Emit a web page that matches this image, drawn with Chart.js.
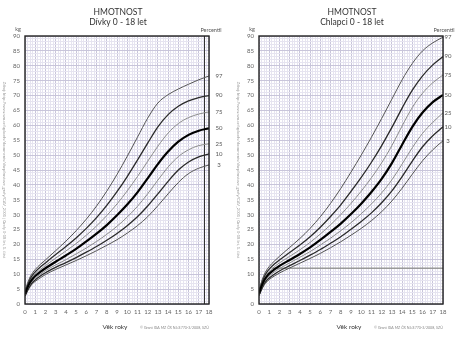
<!DOCTYPE html>
<html>
<head>
<meta charset="utf-8">
<script src="https://cdn.jsdelivr.net/npm/chart.js@4.4.0/dist/chart.umd.min.js"></script>
<style>
  html, body { margin: 0; padding: 0; background: #fff; }
  #wrap { position: relative; width: 465px; height: 340px; overflow: hidden; }
  .box { position: absolute; top: 0; height: 340px; }
</style>
</head>
<body>
<div id="wrap">
  <div class="box" style="left:0;width:232px"><canvas id="girls" width="232" height="340"></canvas></div>
  <div class="box" style="left:234px;width:231px"><canvas id="boys" width="231" height="340"></canvas></div>
</div>
<script>
// věk (roky)
const ages = [0, 0.25, 0.5, 0.75, 1, 1.5, 2, 3, 4, 5, 6, 7, 8, 9, 10, 11, 12, 13, 14, 15, 16, 17, 18];
const percentiles = ['97', '90', '75', '50', '25', '10', '3'];

// Dívky - hmotnost (kg)
const girlsP97 = [4.2, 7.0, 9.1, 10.5, 11.6, 13.3, 14.8, 17.9, 21.1, 24.6, 28.5, 32.9, 37.9, 43.5, 49.6, 56.0, 62.4, 67.5, 70.3, 72.2, 73.8, 75.3, 76.6];
const girlsP90 = [3.9, 6.5, 8.5, 9.8, 10.8, 12.4, 13.8, 16.6, 19.3, 22.2, 25.4, 29.0, 33.1, 37.7, 42.8, 48.3, 54.0, 59.5, 63.6, 66.4, 68.2, 69.3, 70.0];
const girlsP75 = [3.6, 6.1, 7.9, 9.2, 10.1, 11.6, 12.9, 15.4, 17.8, 20.3, 23.1, 26.2, 29.7, 33.6, 38.0, 42.8, 47.9, 53.0, 57.4, 60.6, 62.6, 63.8, 64.5];
const girlsP50 = [3.3, 5.6, 7.3, 8.5, 9.4, 10.8, 12.0, 14.2, 16.3, 18.5, 21.0, 23.6, 26.5, 29.8, 33.4, 37.5, 42.2, 47.0, 51.2, 54.5, 56.8, 58.2, 59.0];
const girlsP25 = [3.0, 5.1, 6.7, 7.9, 8.7, 10.0, 11.2, 13.1, 14.9, 16.8, 18.8, 21.0, 23.4, 26.1, 29.2, 32.8, 37.0, 41.6, 46.0, 49.5, 51.8, 53.2, 53.8];
const girlsP10 = [2.8, 4.7, 6.2, 7.3, 8.1, 9.4, 10.5, 12.3, 13.9, 15.6, 17.4, 19.3, 21.4, 23.7, 26.3, 29.3, 32.9, 37.0, 41.2, 45.0, 47.7, 49.4, 50.4];
const girlsP3  = [2.6, 4.3, 5.8, 6.9, 7.6, 8.8, 9.9, 11.6, 13.1, 14.6, 16.2, 17.9, 19.7, 21.6, 23.8, 26.3, 29.3, 33.0, 37.0, 40.8, 43.8, 45.6, 46.7];

// Chlapci - hmotnost (kg)
const boysP97 = [4.4, 7.5, 9.8, 11.4, 12.6, 14.4, 16.0, 19.0, 22.0, 25.4, 29.3, 33.8, 38.8, 44.3, 50.0, 56.0, 62.3, 68.8, 75.3, 80.8, 85.0, 87.7, 89.6];
const boysP90 = [4.1, 7.0, 9.1, 10.6, 11.7, 13.4, 14.8, 17.3, 19.8, 22.6, 25.8, 29.4, 33.3, 37.8, 42.5, 47.6, 53.2, 59.3, 65.8, 71.8, 76.6, 80.3, 83.1];
const boysP75 = [3.8, 6.5, 8.5, 9.9, 10.9, 12.5, 13.8, 16.0, 18.2, 20.7, 23.5, 26.6, 30.0, 33.8, 37.9, 42.4, 47.4, 53.2, 59.8, 66.0, 70.8, 74.3, 76.9];
const boysP50 = [3.5, 6.0, 7.9, 9.2, 10.2, 11.6, 12.8, 14.8, 16.8, 19.0, 21.5, 24.2, 27.0, 30.2, 33.7, 37.6, 42.0, 47.3, 53.5, 59.5, 64.3, 67.8, 70.2];
const boysP25 = [3.2, 5.5, 7.3, 8.5, 9.4, 10.8, 11.9, 13.8, 15.7, 17.6, 19.8, 22.1, 24.6, 27.3, 30.3, 33.6, 37.3, 41.7, 47.0, 52.5, 57.3, 61.0, 64.2];
const boysP10 = [2.9, 5.1, 6.8, 7.9, 8.7, 10.0, 11.1, 12.9, 14.6, 16.4, 18.3, 20.4, 22.6, 25.1, 27.7, 30.6, 34.0, 38.0, 42.8, 48.0, 52.8, 56.5, 59.5];
const boysP3  = [2.7, 4.7, 6.3, 7.4, 8.2, 9.4, 10.4, 12.1, 13.7, 15.3, 17.0, 18.9, 20.9, 23.1, 25.4, 28.0, 31.0, 34.6, 38.9, 43.6, 48.1, 51.8, 54.8];

// vodorovná čára v grafu chlapců
const boysLineAges = [1.3, 18];
const boysLineKg = [12, 12];

const FONT = 'Lato, "Open Sans", sans-serif';
const GRID_MINOR = '#e6e4f0';
const GRID_MAJOR = '#c8c5da';

const lineStyles = {
    '97': { color: '#555', width: 1 },
    '90': { color: '#2a2a2a', width: 1.3 },
    '75': { color: '#8c8c8c', width: 1 },
    '50': { color: '#000', width: 2.2 },
    '25': { color: '#8c8c8c', width: 1 },
    '10': { color: '#2a2a2a', width: 1.3 },
    '3':  { color: '#555', width: 1 }
};

function isInt(v) { return Math.abs(v - Math.round(v)) < 1e-6; }

function toPoints(xs, ys) {
    return xs.map((x, i) => ({ x: x, y: ys[i] }));
}

// Tmavá svislá čára (jen dívky) - kreslí se nad mřížkou, pod křivkami
const markLinePlugin = {
    id: 'markLine',
    beforeDatasetsDraw(chart, args, o) {
        if (o.value === undefined) return;
        const a = chart.chartArea;
        const x = Math.round(chart.scales.x.getPixelForValue(o.value)) + 0.5;
        const ctx = chart.ctx;
        ctx.save();
        ctx.strokeStyle = '#333';
        ctx.lineWidth = 1;
        ctx.beginPath();
        ctx.moveTo(x, a.top);
        ctx.lineTo(x, a.bottom);
        ctx.stroke();
        ctx.restore();
    }
};

// Popisky, rámeček, texty okolo grafu
const decorPlugin = {
    id: 'decor',
    afterDraw(chart, args, o) {
        const ctx = chart.ctx;
        const a = chart.chartArea;
        ctx.save();

        // rámeček
        ctx.strokeStyle = '#222';
        ctx.lineWidth = 1.4;
        ctx.strokeRect(a.left, a.top, a.right - a.left, a.bottom - a.top);

        ctx.fillStyle = '#333';
        ctx.textAlign = 'center';
        ctx.textBaseline = 'middle';
        const cx = (a.left + a.right) / 2 + 1;
        ctx.font = '8.5px ' + FONT;
        ctx.fillText('HMOTNOST', cx, 12);
        ctx.fillText(o.subtitle, cx, 22);

        ctx.fillStyle = '#555';
        ctx.font = '5.5px ' + FONT;
        ctx.fillText('kg', 18, 29);
        ctx.fillText('Percentil', o.pctX, 30);

        // percentily u konců křivek
        ctx.font = '6px ' + FONT;
        chart.data.datasets.forEach((ds, i) => {
            if (!ds.pct) return;
            const pts = chart.getDatasetMeta(i).data;
            const last = pts[pts.length - 1];
            ctx.fillText(ds.label, a.right + o.labelOffset, last.y);
        });

        ctx.fillStyle = '#333';
        ctx.font = '6.5px ' + FONT;
        ctx.fillText('Věk roky', a.left + 90, 327);
        ctx.fillStyle = '#888';
        ctx.font = '3.6px ' + FONT;
        ctx.textAlign = 'left';
        ctx.fillText('© Grant IGA MZ ČR NJ/4770-3/2008, SZÚ', a.left + 115, 328);

        // zdroj - svisle
        ctx.translate(4, 170);
        ctx.rotate(Math.PI / 2);
        ctx.textAlign = 'center';
        ctx.fillStyle = '#999';
        ctx.font = '4px ' + FONT;
        ctx.fillText('Zdroj: http://www.szu.cz/uploads/documents/chzp/rustove_grafy/CAV_2001 | Grafy 0-18 let, 1. část', 0, 0);
        ctx.restore();
    }
};

function makeChart(id, series, extra, opts) {
    const datasets = percentiles.map((p, i) => ({
        label: p,
        pct: true,
        data: toPoints(ages, series[i]),
        borderColor: lineStyles[p].color,
        borderWidth: lineStyles[p].width,
        pointRadius: 0,
        cubicInterpolationMode: 'monotone',
        fill: false,
        order: p === '50' ? 0 : 1
    }));
    if (extra) datasets.push(extra);

    const xGrid = [];
    for (let i = 0; i <= 72; i++) xGrid.push({ value: i / 4 });
    const yGrid = [];
    for (let i = 0; i <= 90; i++) yGrid.push({ value: i });

    return new Chart(document.getElementById(id), {
        type: 'line',
        data: { datasets: datasets },
        options: {
            responsive: false,
            animation: false,
            layout: { padding: { top: 36, right: opts.padRight, left: 0, bottom: 0 } },
            plugins: {
                legend: { display: false },
                tooltip: { enabled: false },
                decor: opts,
                markLine: { value: opts.darkLine }
            },
            scales: {
                x: {
                    type: 'linear', min: 0, max: 18,
                    afterBuildTicks: axis => { axis.ticks = xGrid; },
                    afterFit: s => { s.height = 36; },
                    ticks: {
                        autoSkip: false, maxRotation: 0, padding: 4,
                        color: '#666', font: { family: FONT, size: 6 },
                        callback: v => isInt(v) ? String(Math.round(v)) : ''
                    },
                    grid: {
                        drawTicks: false, lineWidth: 1,
                        color: c => {
                            const v = c.tick ? c.tick.value : 0;
                            return isInt(v) ? GRID_MAJOR : GRID_MINOR;
                        }
                    },
                    border: { display: false }
                },
                y: {
                    min: 0, max: 90,
                    afterBuildTicks: axis => { axis.ticks = yGrid; },
                    afterFit: s => { s.width = 25; },
                    ticks: {
                        autoSkip: false, padding: 5,
                        color: '#666', font: { family: FONT, size: 6 },
                        callback: v => (isInt(v) && Math.round(v) % 5 === 0) ? String(Math.round(v)) : ''
                    },
                    grid: {
                        drawTicks: false, lineWidth: 1,
                        color: c => {
                            const v = c.tick ? c.tick.value : 0;
                            return (isInt(v) && Math.round(v) % 5 === 0) ? GRID_MAJOR : GRID_MINOR;
                        }
                    },
                    border: { display: false }
                }
            }
        },
        plugins: [markLinePlugin, decorPlugin]
    });
}

makeChart('girls',
    [girlsP97, girlsP90, girlsP75, girlsP50, girlsP25, girlsP10, girlsP3],
    null,
    { subtitle: 'Dívky 0 - 18 let', pctX: 211, labelOffset: 10, padRight: 23, darkLine: 17.5 });

makeChart('boys',
    [boysP97, boysP90, boysP75, boysP50, boysP25, boysP10, boysP3],
    {
        label: '', pct: false,
        data: toPoints(boysLineAges, boysLineKg),
        borderColor: '#9a9a9a', borderWidth: 1.5, pointRadius: 0, order: 5
    },
    { subtitle: 'Chlapci 0 - 18 let', pctX: 210, labelOffset: 5, padRight: 22 });
</script>
</body>
</html>
